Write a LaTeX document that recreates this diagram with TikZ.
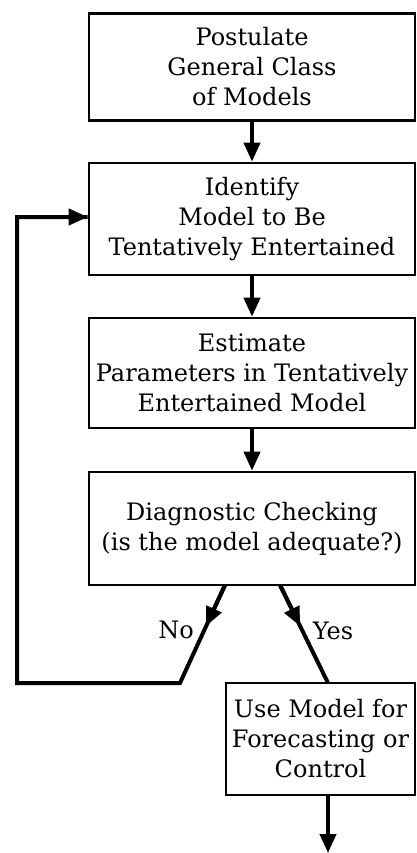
\documentclass[tikz,border=0pt]{standalone}
\usepackage{fontspec}
\setmainfont{DejaVu Serif}
\usetikzlibrary{arrows.meta,calc}
\begin{document}
\begin{tikzpicture}[x=1pt,y=-1pt,
  box/.style={draw, line width=2.6pt, rectangle, align=center, inner sep=0pt,
    font=\fontsize{24}{30}\selectfont},
  conn/.style={line width=4pt},
  arr/.style={conn, -{Triangle[length=19pt,width=16pt]}},
  lbl/.style={font=\fontsize{24}{30}\selectfont, inner sep=0pt}]
\useasboundingbox (0,0) rectangle (417,853);
\node[box, minimum width=326pt, minimum height=107pt] (b1) at (252,67) {Postulate\\General Class\\of Models};
\node[box, minimum width=326pt, minimum height=112pt] (b2) at (252,219) {Identify\\Model to Be\\Tentatively Entertained};
\node[box, minimum width=326pt, minimum height=110pt] (b3) at (252,373) {Estimate\\Parameters in Tentatively\\Entertained Model};
\node[box, minimum width=326pt, minimum height=113pt] (b4) at (252,528.5) {Diagnostic Checking\\(is the model adequate?)};
\node[box, minimum width=189pt, minimum height=112pt] (b5) at (320.5,739) {Use Model for\\Forecasting or\\Control};
\draw[arr] (b1) -- (b2);
\draw[arr] (b2) -- (b3);
\draw[arr] (b3) -- (b4);
% No branch
\coordinate (noS) at (225,585);
\coordinate (noK) at (180,683);
\coordinate (noL) at (17,683);
\coordinate (noT) at (17,217);
\draw[conn, line join=miter] (noS) -- (noK) -- (noL) -- (noT) -- (b2.west |- noT);
\draw[arr] (noS) -- ($(noS)!0.42!(noK)$);
\draw[arr] (noT) -- (b2.west |- noT);
% Yes branch
\coordinate (yesS) at (280,585);
\coordinate (yesE) at (328,683);
\draw[conn] (yesS) -- (yesE);
\draw[arr] (yesS) -- ($(yesS)!0.42!(yesE)$);
\node[lbl] (no) at (176,630) {No};
\node[lbl] (yes) at (333,631) {Yes};
% output
\coordinate (out) at (328,853);
\draw[arr] (b5.south -| out) -- (out);
\end{tikzpicture}
\end{document}
